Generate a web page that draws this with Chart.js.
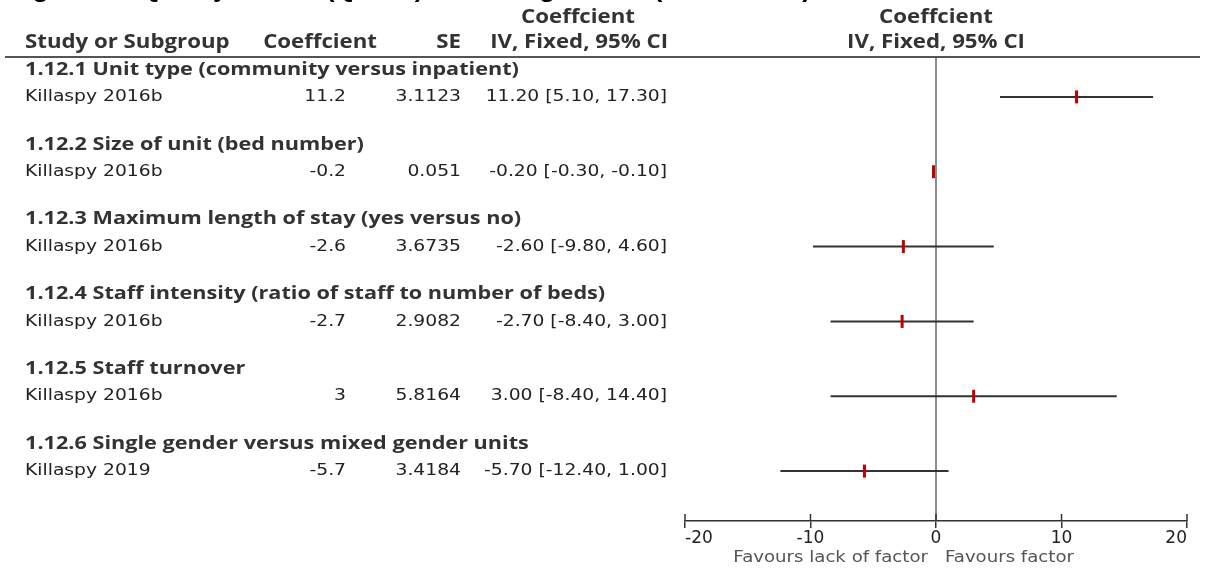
<!DOCTYPE html>
<html>
<head>
<meta charset="utf-8">
<script src="https://cdn.jsdelivr.net/npm/chart.js@4.4.1/dist/chart.umd.min.js"></script>
<style>
  html, body { margin: 0; padding: 0; background: #fff; }
  #wrap { width: 1211px; height: 569px; }
</style>
</head>
<body>
<div id="wrap"><canvas id="forest" width="1211" height="569"></canvas></div>
<script>
// data
const subgroups = [
  '1.12.1 Unit type (community versus inpatient)',
  '1.12.2 Size of unit (bed number)',
  '1.12.3 Maximum length of stay (yes versus no)',
  '1.12.4 Staff intensity (ratio of staff to number of beds)',
  '1.12.5 Staff turnover',
  '1.12.6 Single gender versus mixed gender units'
];
const studies = ['Killaspy 2016b', 'Killaspy 2016b', 'Killaspy 2016b', 'Killaspy 2016b', 'Killaspy 2016b', 'Killaspy 2019'];
const coefLabels = ['11.2', '-0.2', '-2.6', '-2.7', '3', '-5.7'];
const seLabels = ['3.1123', '0.051', '3.6735', '2.9082', '5.8164', '3.4184'];
const estimates = [11.2, -0.2, -2.6, -2.7, 3.0, -5.7];
const lowerCI = [5.1, -0.3, -9.8, -8.4, -8.4, -12.4];
const upperCI = [17.3, -0.1, 4.6, 3.0, 14.4, 1.0];
const xTicks = [-20, -10, 0, 10, 20];
const favoursLeft = 'Favours lack of factor';
const favoursRight = 'Favours factor';
const titleText = 'Figure 14: Quality of care (QuIRC) - meta-regression (unit factors)';

// each subgroup takes 3 lines: heading, study, blank
const headRow = i => i * 3;
const studyRow = i => i * 3 + 1.1;
const ciLabel = i => estimates[i].toFixed(2) + ' [' + lowerCI[i].toFixed(2) + ', ' + upperCI[i].toFixed(2) + ']';

const SX = 1.17; // source image is stretched sideways a bit

function putText(ctx, str, x, y, align, font, color) {
  ctx.save();
  ctx.font = font;
  ctx.fillStyle = color;
  ctx.textBaseline = 'middle';
  ctx.textAlign = align;
  ctx.translate(x, y);
  ctx.scale(SX, 1);
  ctx.fillText(str, 0, 0);
  ctx.restore();
}

const HEAD_FONT = "bold 19px 'Open Sans'";
const GROUP_FONT = "bold 18.5px 'Open Sans'";
const ROW_FONT = "16px 'DejaVu Sans'";

const tablePlugin = {
  id: 'forestTable',
  beforeDatasetsDraw(chart) {
    const ctx = chart.ctx;
    const xs = chart.scales.x;
    const area = chart.chartArea;
    ctx.save();
    // line of no effect
    ctx.strokeStyle = '#666';
    ctx.lineWidth = 1.5;
    const x0 = xs.getPixelForValue(0);
    ctx.beginPath();
    ctx.moveTo(x0, area.top);
    ctx.lineTo(x0, area.bottom);
    ctx.stroke();
    // upper half of the axis ticks
    ctx.strokeStyle = '#333';
    xTicks.forEach(v => {
      const px = xs.getPixelForValue(v);
      ctx.beginPath();
      ctx.moveTo(px, area.bottom - 7);
      ctx.lineTo(px, area.bottom);
      ctx.stroke();
    });
    ctx.restore();
  },
  afterDraw(chart) {
    const ctx = chart.ctx;
    const xs = chart.scales.x;
    const ys = chart.scales.y;
    const x0 = xs.getPixelForValue(0);

    // cut-off figure title, only the descenders show
    ctx.save();
    ctx.font = "bold 22px 'Liberation Sans'";
    ctx.fillStyle = '#000';
    ctx.textBaseline = 'alphabetic';
    ctx.textAlign = 'left';
    ctx.translate(10, -3);
    ctx.scale(SX, 1);
    ctx.fillText(titleText, 0, 0);
    ctx.restore();

    // column headers
    putText(ctx, 'Coeffcient', 578, 18, 'center', HEAD_FONT, '#333');
    putText(ctx, 'Coeffcient', x0, 18, 'center', HEAD_FONT, '#333');
    putText(ctx, 'Study or Subgroup', 25, 43, 'left', HEAD_FONT, '#333');
    putText(ctx, 'Coeffcient', 377, 43, 'right', HEAD_FONT, '#333');
    putText(ctx, 'SE', 461, 43, 'right', HEAD_FONT, '#333');
    putText(ctx, 'IV, Fixed, 95% CI', 668, 43, 'right', HEAD_FONT, '#333');
    putText(ctx, 'IV, Fixed, 95% CI', x0, 43, 'center', HEAD_FONT, '#333');

    // rule under headers
    ctx.save();
    ctx.strokeStyle = '#555';
    ctx.lineWidth = 2;
    ctx.beginPath();
    ctx.moveTo(5, 57);
    ctx.lineTo(1200, 57);
    ctx.stroke();
    ctx.restore();

    subgroups.forEach((g, i) => {
      putText(ctx, g, 25, ys.getPixelForValue(headRow(i)), 'left', GROUP_FONT, '#333');
      const y = ys.getPixelForValue(studyRow(i));
      putText(ctx, studies[i], 25, y, 'left', ROW_FONT, '#222');
      putText(ctx, coefLabels[i], 346, y, 'right', ROW_FONT, '#222');
      putText(ctx, seLabels[i], 461, y, 'right', ROW_FONT, '#222');
      putText(ctx, ciLabel(i), 667, y, 'right', ROW_FONT, '#222');
    });

    putText(ctx, favoursLeft, x0 - 8, 558, 'right', "15.5px 'DejaVu Sans'", '#555');
    putText(ctx, favoursRight, x0 + 9, 558, 'left', "15.5px 'DejaVu Sans'", '#555');
  }
};

const ciSets = estimates.map((v, i) => ({
  data: [{ x: lowerCI[i], y: studyRow(i) }, { x: upperCI[i], y: studyRow(i) }],
  showLine: true,
  borderColor: '#333',
  borderWidth: 2,
  pointRadius: 0,
  order: 1
}));

new Chart(document.getElementById('forest'), {
  type: 'scatter',
  data: {
    datasets: [
      {
        data: estimates.map((v, i) => ({ x: v, y: studyRow(i) })),
        pointStyle: 'line',
        rotation: 90,
        radius: 6.5,
        borderWidth: 3,
        borderColor: '#c00000',
        backgroundColor: '#c00000',
        order: 0
      },
      ...ciSets
    ]
  },
  options: {
    responsive: false,
    animation: false,
    devicePixelRatio: 1,
    layout: { padding: { left: 685, right: 24, top: 57, bottom: 0 } },
    plugins: { legend: { display: false }, tooltip: { enabled: false } },
    scales: {
      x: {
        type: 'linear',
        min: -20,
        max: 20,
        afterBuildTicks: s => { s.ticks = xTicks.map(v => ({ value: v })); },
        afterFit: s => { s.height = 48; },
        ticks: { align: 'inner', color: '#222', padding: 0, font: { family: 'DejaVu Sans', size: 17 } },
        grid: { drawOnChartArea: false, drawTicks: true, tickLength: 7, color: '#333', lineWidth: 1.5 },
        border: { color: '#333', width: 1.5 }
      },
      y: {
        type: 'linear',
        display: false,
        reverse: true,
        min: -0.5,
        max: 18.1
      }
    }
  },
  plugins: [tablePlugin]
});
</script>
</body>
</html>
